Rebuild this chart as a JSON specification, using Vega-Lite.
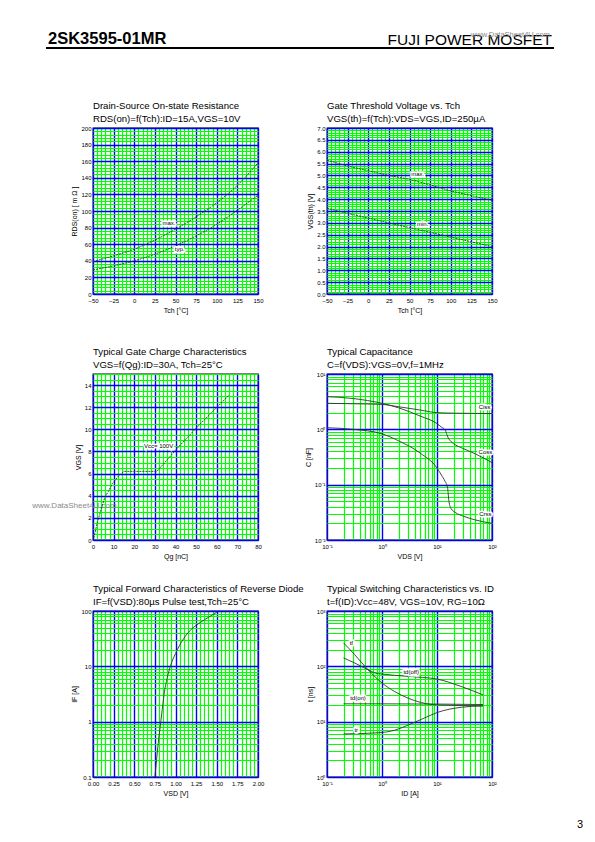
{
"$schema":"https://vega.github.io/schema/vega-lite/v6.json",
"autosize":{"type":"pad"},
"padding":{"left":31,"top":28,"right":0,"bottom":0},
"background":"white",
"spacing":51,
"datasets":{
"p1lab":[{"label":"max.","x":42,"y":85},{"label":"typ.","x":55,"y":54}],
"p2lab":[{"label":"max.","x":60,"y":5.06},{"label":"min.","x":66,"y":2.97}],
"p3lab":[{"label":"Vcc= 100V","x":31.8,"y":8.47}],
"p4lab":[{"label":"Ciss","x":73,"y":2.56},{"label":"Coss","x":76,"y":0.385},{"label":"Crss","x":76,"y":0.029}],
"p6lab":[{"label":"tf","x":0.277,"y":265},{"label":"td(off)","x":3.4,"y":78},{"label":"td(on)","x":0.366,"y":26.6},{"label":"tr","x":0.34,"y":7.06}]
},
"vconcat":[
{
"width":461,"height":20,"view":{"stroke":null},
"data":{"values":[{"left":"2SK3595-01MR","right":"FUJI POWER MOSFET","wm":"www.DataSheet4U.com"}]},
"layer":[
{"mark":{"type":"rule","color":"#000","strokeWidth":2,"xOffset":-47},"encoding":{"x":{"value":0},"x2":{"value":"width"},"y":{"value":"height"}}},
{"mark":{"type":"text","align":"left","baseline":"alphabetic","fontSize":16.5,"fontWeight":"bold","dx":-45,"dy":-4,"color":"#000"},"encoding":{"x":{"value":0},"y":{"value":"height"},"text":{"field":"left"}}},
{"mark":{"type":"text","align":"right","baseline":"alphabetic","fontSize":15.5,"dx":-2,"dy":-3,"color":"#000"},"encoding":{"x":{"value":"width"},"y":{"value":"height"},"text":{"field":"right"}}},
{"mark":{"type":"text","align":"right","baseline":"alphabetic","fontSize":7.5,"dx":-4,"dy":-11,"color":"#888"},"encoding":{"x":{"value":"width"},"y":{"value":"height"},"text":{"field":"wm"}}}
]
},
{"spacing":32,"vconcat":[
{"hconcat":[
{
"width":165,"height":166,
"title":{"text":"Drain-Source On-state Resistance","subtitle":"RDS(on)=f(Tch):ID=15A,VGS=10V"},
"encoding":{
"x":{"field":"x","type":"quantitative","scale":{"domain":[-50,150],"nice":false,"zero":false},
"axis":{"title":"Tch [°C]","values":[-50,-45,-40,-35,-30,-25,-20,-15,-10,-5,0,5,10,15,20,25,30,35,40,45,50,55,60,65,70,75,80,85,90,95,100,105,110,115,120,125,130,135,140,145,150],
"gridColor":{"condition":{"test":"datum.value % 25 === 0","value":"#0000ff"},"value":"#00ff00"},
"gridWidth":{"condition":{"test":"datum.value % 25 === 0","value":1.4},"value":1.2},
"labelExpr":"datum.value % 25 === 0 ? datum.label : ''"}},
"y":{"field":"y","type":"quantitative","scale":{"domain":[0,200],"nice":false},
"axis":{"title":"RDS(on) [ m Ω ]","values":[0,4,8,12,16,20,24,28,32,36,40,44,48,52,56,60,64,68,72,76,80,84,88,92,96,100,104,108,112,116,120,124,128,132,136,140,144,148,152,156,160,164,168,172,176,180,184,188,192,196,200],
"gridColor":{"condition":{"test":"datum.value % 20 === 0","value":"#0000ff"},"value":"#00ff00"},
"gridWidth":{"condition":{"test":"datum.value % 20 === 0","value":1.4},"value":1.2},
"labelExpr":"datum.value % 20 === 0 ? datum.label : ''"}}
},
"layer":[
{"data":{"values":[
{"series":"max","x":-50,"y":39},{"series":"max","x":-25,"y":46},{"series":"max","x":0,"y":54},{"series":"max","x":25,"y":65},{"series":"max","x":50,"y":78},{"series":"max","x":75,"y":93},{"series":"max","x":100,"y":110},{"series":"max","x":125,"y":131},{"series":"max","x":150,"y":158},
{"series":"typ","x":-50,"y":29},{"series":"typ","x":-25,"y":34},{"series":"typ","x":0,"y":40},{"series":"typ","x":25,"y":48},{"series":"typ","x":50,"y":58},{"series":"typ","x":75,"y":70},{"series":"typ","x":100,"y":84},{"series":"typ","x":125,"y":101},{"series":"typ","x":150,"y":119}]},
"mark":{"type":"line","color":"#333","strokeWidth":0.9,"strokeDash":[2,1],"interpolate":"monotone"},"encoding":{"detail":{"field":"series"}}},
{"data":{"name":"p1lab"},"mark":{"type":"text","fontSize":6,"stroke":"#fff","strokeWidth":3,"color":"#fff"},"encoding":{"text":{"field":"label"}}},
{"data":{"name":"p1lab"},"mark":{"type":"text","fontSize":6,"color":"#000"},"encoding":{"text":{"field":"label"}}}
]
},
{
"width":165,"height":166,
"title":{"text":"Gate Threshold Voltage vs. Tch","subtitle":"VGS(th)=f(Tch):VDS=VGS,ID=250µA"},
"encoding":{
"x":{"field":"x","type":"quantitative","scale":{"domain":[-50,150],"nice":false,"zero":false},
"axis":{"title":"Tch [°C]","values":[-50,-45,-40,-35,-30,-25,-20,-15,-10,-5,0,5,10,15,20,25,30,35,40,45,50,55,60,65,70,75,80,85,90,95,100,105,110,115,120,125,130,135,140,145,150],
"gridColor":{"condition":{"test":"datum.value % 25 === 0","value":"#0000ff"},"value":"#00ff00"},
"gridWidth":{"condition":{"test":"datum.value % 25 === 0","value":1.4},"value":1.2},
"labelExpr":"datum.value % 25 === 0 ? datum.label : ''"}},
"y":{"field":"y","type":"quantitative","scale":{"domain":[0,7],"nice":false},
"axis":{"title":"VGS(th) [V]","values":[0,0.1,0.2,0.3,0.4,0.5,0.6,0.7,0.8,0.9,1,1.1,1.2,1.3,1.4,1.5,1.6,1.7,1.8,1.9,2,2.1,2.2,2.3,2.4,2.5,2.6,2.7,2.8,2.9,3,3.1,3.2,3.3,3.4,3.5,3.6,3.7,3.8,3.9,4,4.1,4.2,4.3,4.4,4.5,4.6,4.7,4.8,4.9,5,5.1,5.2,5.3,5.4,5.5,5.6,5.7,5.8,5.9,6,6.1,6.2,6.3,6.4,6.5,6.6,6.7,6.8,6.9,7],
"gridColor":{"condition":{"test":"abs(datum.value*2-round(datum.value*2)) < 0.001","value":"#0000ff"},"value":"#00ff00"},
"gridWidth":{"condition":{"test":"abs(datum.value*2-round(datum.value*2)) < 0.001","value":1.4},"value":1.2},
"labelExpr":"abs(datum.value*2-round(datum.value*2)) < 0.001 ? format(datum.value, '.1f') : ''"}}
},
"layer":[
{"data":{"values":[
{"series":"max","x":-50,"y":5.65},{"series":"max","x":-25,"y":5.4},{"series":"max","x":0,"y":5.2},{"series":"max","x":25,"y":5.0},{"series":"max","x":50,"y":4.83},{"series":"max","x":75,"y":4.6},{"series":"max","x":100,"y":4.35},{"series":"max","x":125,"y":4.15},{"series":"max","x":150,"y":3.95},
{"series":"min","x":-50,"y":3.62},{"series":"min","x":-25,"y":3.4},{"series":"min","x":0,"y":3.2},{"series":"min","x":25,"y":3.0},{"series":"min","x":50,"y":2.8},{"series":"min","x":75,"y":2.6},{"series":"min","x":100,"y":2.4},{"series":"min","x":125,"y":2.2},{"series":"min","x":150,"y":2.0}]},
"mark":{"type":"line","color":"#333","strokeWidth":0.9,"strokeDash":[2,1],"interpolate":"monotone"},"encoding":{"detail":{"field":"series"}}},
{"data":{"name":"p2lab"},"mark":{"type":"text","fontSize":6,"stroke":"#fff","strokeWidth":3,"color":"#fff"},"encoding":{"text":{"field":"label"}}},
{"data":{"name":"p2lab"},"mark":{"type":"text","fontSize":6,"color":"#000"},"encoding":{"text":{"field":"label"}}}
]
}
],"spacing":69,"bounds":"flush"},
{"spacing":23,"vconcat":[
{"hconcat":[
{
"width":165,"height":166,
"title":{"text":"Typical Gate Charge Characteristics","subtitle":"VGS=f(Qg):ID=30A, Tch=25°C"},
"encoding":{
"x":{"field":"x","type":"quantitative","scale":{"domain":[0,80],"nice":false},
"axis":{"title":"Qg [nC]","values":[0,2,4,6,8,10,12,14,16,18,20,22,24,26,28,30,32,34,36,38,40,42,44,46,48,50,52,54,56,58,60,62,64,66,68,70,72,74,76,78,80],
"gridColor":{"condition":{"test":"datum.value % 10 === 0","value":"#0000ff"},"value":"#00ff00"},
"gridWidth":{"condition":{"test":"datum.value % 10 === 0","value":1.4},"value":1.2},
"labelExpr":"datum.value % 10 === 0 ? datum.label : ''"}},
"y":{"field":"y","type":"quantitative","scale":{"domain":[0,15],"nice":false},
"axis":{"title":"VGS [V]","values":[0,0.5,1,1.5,2,2.5,3,3.5,4,4.5,5,5.5,6,6.5,7,7.5,8,8.5,9,9.5,10,10.5,11,11.5,12,12.5,13,13.5,14,14.5,15],
"gridColor":{"condition":{"test":"datum.value % 2 === 0","value":"#0000ff"},"value":"#00ff00"},
"gridWidth":{"condition":{"test":"datum.value % 2 === 0","value":1.4},"value":1.2},
"labelExpr":"datum.value % 2 === 0 ? format(datum.value, 'd') : ''"}}
},
"layer":[
{"data":{"values":[{"wm":"www.DataSheet4U.com","x":11.5,"y":3.1}]},"mark":{"type":"text","align":"right","baseline":"middle","fontSize":8,"color":"#8a8a8a"},"encoding":{"text":{"field":"wm"}}},
{"data":{"values":[
{"series":"Vcc=100V","x":0.4,"y":0.2},{"series":"Vcc=100V","x":2.2,"y":1.66},{"series":"Vcc=100V","x":4.3,"y":3.0},{"series":"Vcc=100V","x":5.8,"y":3.9},{"series":"Vcc=100V","x":7.5,"y":4.4},{"series":"Vcc=100V","x":9.4,"y":5.1},{"series":"Vcc=100V","x":12.2,"y":5.75},{"series":"Vcc=100V","x":15,"y":6.2},{"series":"Vcc=100V","x":31,"y":6.2},{"series":"Vcc=100V","x":41.4,"y":8.4},{"series":"Vcc=100V","x":51,"y":10.3},{"series":"Vcc=100V","x":66,"y":13.1}]},
"mark":{"type":"line","color":"#333","strokeWidth":0.9,"strokeDash":[2,1]},"encoding":{"detail":{"field":"series"}}},
{"data":{"name":"p3lab"},"mark":{"type":"text","fontSize":6,"stroke":"#fff","strokeWidth":3,"color":"#fff"},"encoding":{"text":{"field":"label"}}},
{"data":{"name":"p3lab"},"mark":{"type":"text","fontSize":6,"color":"#000"},"encoding":{"text":{"field":"label"}}}
]
},
{
"width":165,"height":166,
"title":{"text":"Typical Capacitance","subtitle":"C=f(VDS):VGS=0V,f=1MHz"},
"encoding":{
"x":{"field":"x","type":"quantitative","scale":{"type":"log","domain":[0.1,100],"nice":false},
"axis":{"title":"VDS [V]","values":[0.1,0.2,0.3,0.4,0.5,0.6,0.7,0.8,0.9,1,2,3,4,5,6,7,8,9,10,20,30,40,50,60,70,80,90,100],
"gridColor":{"condition":{"test":"abs(log(datum.value)/LN10-round(log(datum.value)/LN10)) < 0.001","value":"#0000ff"},"value":"#00ff00"},
"gridWidth":{"condition":{"test":"abs(log(datum.value)/LN10-round(log(datum.value)/LN10)) < 0.001","value":1.4},"value":1.2},
"labelExpr":"abs(log(datum.value)/LN10-round(log(datum.value)/LN10)) < 0.001 ? '10' + (round(log(datum.value)/LN10) == -2 ? '⁻²' : round(log(datum.value)/LN10) == -1 ? '⁻¹' : round(log(datum.value)/LN10) == 0 ? '⁰' : round(log(datum.value)/LN10) == 1 ? '¹' : round(log(datum.value)/LN10) == 2 ? '²' : '³') : ''"}},
"y":{"field":"y","type":"quantitative","scale":{"type":"log","domain":[0.01,10],"nice":false},
"axis":{"title":"C [nF]","values":[0.01,0.02,0.03,0.04,0.05,0.06,0.07,0.08,0.09,0.1,0.2,0.3,0.4,0.5,0.6,0.7,0.8,0.9,1,2,3,4,5,6,7,8,9,10],
"gridColor":{"condition":{"test":"abs(log(datum.value)/LN10-round(log(datum.value)/LN10)) < 0.001","value":"#0000ff"},"value":"#00ff00"},
"gridWidth":{"condition":{"test":"abs(log(datum.value)/LN10-round(log(datum.value)/LN10)) < 0.001","value":1.4},"value":1.2},
"labelExpr":"abs(log(datum.value)/LN10-round(log(datum.value)/LN10)) < 0.001 ? '10' + (round(log(datum.value)/LN10) == -2 ? '⁻²' : round(log(datum.value)/LN10) == -1 ? '⁻¹' : round(log(datum.value)/LN10) == 0 ? '⁰' : round(log(datum.value)/LN10) == 1 ? '¹' : round(log(datum.value)/LN10) == 2 ? '²' : '³') : ''"}}
},
"layer":[
{"data":{"values":[
{"series":"Ciss","x":0.1,"y":2.95},{"series":"Ciss","x":0.3,"y":2.9},{"series":"Ciss","x":1,"y":2.82},{"series":"Ciss","x":2,"y":2.56},{"series":"Ciss","x":5,"y":2.23},{"series":"Ciss","x":10,"y":2.0},{"series":"Ciss","x":20,"y":1.96},{"series":"Ciss","x":50,"y":1.94},{"series":"Ciss","x":100,"y":1.93},
{"series":"Coss","x":0.1,"y":3.9},{"series":"Coss","x":0.3,"y":3.6},{"series":"Coss","x":1,"y":2.95},{"series":"Coss","x":2,"y":2.45},{"series":"Coss","x":5,"y":1.73},{"series":"Coss","x":10,"y":1.27},{"series":"Coss","x":12,"y":1.1},{"series":"Coss","x":14,"y":0.98},{"series":"Coss","x":16,"y":0.7},{"series":"Coss","x":18,"y":0.6},{"series":"Coss","x":20,"y":0.55},{"series":"Coss","x":30,"y":0.45},{"series":"Coss","x":50,"y":0.36},{"series":"Coss","x":100,"y":0.25},
{"series":"Crss","x":0.1,"y":1.07},{"series":"Crss","x":0.3,"y":1.0},{"series":"Crss","x":1,"y":0.83},{"series":"Crss","x":2,"y":0.62},{"series":"Crss","x":5,"y":0.37},{"series":"Crss","x":10,"y":0.2},{"series":"Crss","x":12,"y":0.15},{"series":"Crss","x":14,"y":0.115},{"series":"Crss","x":15.5,"y":0.09},{"series":"Crss","x":16.5,"y":0.05},{"series":"Crss","x":18,"y":0.037},{"series":"Crss","x":22,"y":0.031},{"series":"Crss","x":30,"y":0.027},{"series":"Crss","x":50,"y":0.023},{"series":"Crss","x":100,"y":0.02}]},
"mark":{"type":"line","color":"#333","strokeWidth":0.9,"interpolate":"monotone"},"encoding":{"detail":{"field":"series"}}},
{"data":{"name":"p4lab"},"mark":{"type":"text","fontSize":6,"stroke":"#fff","strokeWidth":3,"color":"#fff"},"encoding":{"text":{"field":"label"}}},
{"data":{"name":"p4lab"},"mark":{"type":"text","fontSize":6,"color":"#000"},"encoding":{"text":{"field":"label"}}}
]
}
],"spacing":69,"bounds":"flush"},
{"spacing":21,"vconcat":[
{"hconcat":[
{
"width":165,"height":166,
"title":{"text":"Typical Forward Characteristics of Reverse Diode","subtitle":"IF=f(VSD):80µs Pulse test,Tch=25°C"},
"encoding":{
"x":{"field":"x","type":"quantitative","scale":{"domain":[0,2],"nice":false},
"axis":{"title":"VSD [V]","values":[0,0.05,0.1,0.15,0.2,0.25,0.3,0.35,0.4,0.45,0.5,0.55,0.6,0.65,0.7,0.75,0.8,0.85,0.9,0.95,1,1.05,1.1,1.15,1.2,1.25,1.3,1.35,1.4,1.45,1.5,1.55,1.6,1.65,1.7,1.75,1.8,1.85,1.9,1.95,2],
"gridColor":{"condition":{"test":"abs(datum.value*4-round(datum.value*4)) < 0.001","value":"#0000ff"},"value":"#00ff00"},
"gridWidth":{"condition":{"test":"abs(datum.value*4-round(datum.value*4)) < 0.001","value":1.4},"value":1.2},
"labelExpr":"abs(datum.value*4-round(datum.value*4)) < 0.001 ? format(datum.value, '.2f') : ''"}},
"y":{"field":"y","type":"quantitative","scale":{"type":"log","domain":[0.1,100],"nice":false},
"axis":{"title":"IF [A]","values":[0.1,0.2,0.3,0.4,0.5,0.6,0.7,0.8,0.9,1,2,3,4,5,6,7,8,9,10,20,30,40,50,60,70,80,90,100],
"gridColor":{"condition":{"test":"abs(log(datum.value)/LN10-round(log(datum.value)/LN10)) < 0.001","value":"#0000ff"},"value":"#00ff00"},
"gridWidth":{"condition":{"test":"abs(log(datum.value)/LN10-round(log(datum.value)/LN10)) < 0.001","value":1.4},"value":1.2},
"labelExpr":"abs(log(datum.value)/LN10-round(log(datum.value)/LN10)) < 0.001 ? format(datum.value, '~g') : ''"}}
},
"layer":[
{"data":{"values":[
{"series":"IF","x":0.75,"y":0.1},{"series":"IF","x":0.77,"y":0.2},{"series":"IF","x":0.79,"y":0.4},{"series":"IF","x":0.82,"y":0.95},{"series":"IF","x":0.84,"y":1.7},{"series":"IF","x":0.86,"y":3.0},{"series":"IF","x":0.9,"y":6.2},{"series":"IF","x":0.94,"y":10.3},{"series":"IF","x":1.0,"y":17},{"series":"IF","x":1.1,"y":32},{"series":"IF","x":1.2,"y":48},{"series":"IF","x":1.3,"y":62},{"series":"IF","x":1.4,"y":77},{"series":"IF","x":1.5,"y":95}]},
"mark":{"type":"line","color":"#333","strokeWidth":0.9,"interpolate":"monotone"},"encoding":{"detail":{"field":"series"}}}
]
},
{
"width":165,"height":166,
"title":{"text":"Typical Switching Characteristics vs. ID","subtitle":"t=f(ID):Vcc=48V, VGS=10V, RG=10Ω"},
"encoding":{
"x":{"field":"x","type":"quantitative","scale":{"type":"log","domain":[0.1,100],"nice":false},
"axis":{"title":"ID [A]","values":[0.1,0.2,0.3,0.4,0.5,0.6,0.7,0.8,0.9,1,2,3,4,5,6,7,8,9,10,20,30,40,50,60,70,80,90,100],
"gridColor":{"condition":{"test":"abs(log(datum.value)/LN10-round(log(datum.value)/LN10)) < 0.001","value":"#0000ff"},"value":"#00ff00"},
"gridWidth":{"condition":{"test":"abs(log(datum.value)/LN10-round(log(datum.value)/LN10)) < 0.001","value":1.4},"value":1.2},
"labelExpr":"abs(log(datum.value)/LN10-round(log(datum.value)/LN10)) < 0.001 ? '10' + (round(log(datum.value)/LN10) == -2 ? '⁻²' : round(log(datum.value)/LN10) == -1 ? '⁻¹' : round(log(datum.value)/LN10) == 0 ? '⁰' : round(log(datum.value)/LN10) == 1 ? '¹' : round(log(datum.value)/LN10) == 2 ? '²' : '³') : ''"}},
"y":{"field":"y","type":"quantitative","scale":{"type":"log","domain":[1,1000],"nice":false},
"axis":{"title":"t [ns]","values":[1,2,3,4,5,6,7,8,9,10,20,30,40,50,60,70,80,90,100,200,300,400,500,600,700,800,900,1000],
"gridColor":{"condition":{"test":"abs(log(datum.value)/LN10-round(log(datum.value)/LN10)) < 0.001","value":"#0000ff"},"value":"#00ff00"},
"gridWidth":{"condition":{"test":"abs(log(datum.value)/LN10-round(log(datum.value)/LN10)) < 0.001","value":1.4},"value":1.2},
"labelExpr":"abs(log(datum.value)/LN10-round(log(datum.value)/LN10)) < 0.001 ? '10' + (round(log(datum.value)/LN10) == -2 ? '⁻²' : round(log(datum.value)/LN10) == -1 ? '⁻¹' : round(log(datum.value)/LN10) == 0 ? '⁰' : round(log(datum.value)/LN10) == 1 ? '¹' : round(log(datum.value)/LN10) == 2 ? '²' : '³') : ''"}}
},
"layer":[
{"data":{"values":[
{"series":"tf","x":0.2,"y":265},{"series":"tf","x":0.318,"y":163},{"series":"tf","x":0.556,"y":87},{"series":"tf","x":1.0,"y":50},{"series":"tf","x":1.7,"y":35},{"series":"tf","x":3.0,"y":26.5},{"series":"tf","x":5.2,"y":22.1},{"series":"tf","x":10,"y":20.1},{"series":"tf","x":68.6,"y":19.3},
{"series":"td(off)","x":0.2,"y":142},{"series":"td(off)","x":0.318,"y":115},{"series":"td(off)","x":0.556,"y":87},{"series":"td(off)","x":0.74,"y":76},{"series":"td(off)","x":1.0,"y":72.5},{"series":"td(off)","x":3.0,"y":65.8},{"series":"td(off)","x":10,"y":58.8},{"series":"td(off)","x":27.5,"y":43.3},{"series":"td(off)","x":68.6,"y":30.5},
{"series":"td(on)","x":0.2,"y":21},{"series":"td(on)","x":1,"y":21},{"series":"td(on)","x":10,"y":20.8},{"series":"td(on)","x":68.6,"y":20.4},
{"series":"tr","x":0.2,"y":6.0},{"series":"tr","x":0.85,"y":6.3},{"series":"tr","x":1.7,"y":7.0},{"series":"tr","x":3.0,"y":8.7},{"series":"tr","x":5.2,"y":11.0},{"series":"tr","x":10,"y":14.6},{"series":"tr","x":27.5,"y":18.2},{"series":"tr","x":68.6,"y":19.3}]},
"mark":{"type":"line","color":"#333","strokeWidth":0.9,"interpolate":"monotone"},"encoding":{"detail":{"field":"series"}}},
{"data":{"name":"p6lab"},"mark":{"type":"text","fontSize":6,"stroke":"#fff","strokeWidth":3,"color":"#fff"},"encoding":{"text":{"field":"label"}}},
{"data":{"name":"p6lab"},"mark":{"type":"text","fontSize":6,"color":"#000"},"encoding":{"text":{"field":"label"}}}
]
}
],"spacing":69,"bounds":"flush"},
{
"width":490,"height":10,"view":{"stroke":null},
"data":{"values":[{"page":"3"}]},
"mark":{"type":"text","align":"right","baseline":"alphabetic","fontSize":11,"color":"#000"},
"encoding":{"x":{"value":"width"},"y":{"value":"height"},"text":{"field":"page"}}
}
]}
]}
]}
],
"config":{
"font":"Liberation Sans",
"view":{"stroke":"#000","strokeWidth":1.3},
"axis":{"labelFontSize":6,"titleFontSize":7,"titleFontWeight":"normal","ticks":false,"domain":false,"labelPadding":3,"titlePadding":3,"labelFlush":false,"labelOverlap":false,"gridOpacity":1,"labelColor":"#000","titleColor":"#000","labelFont":"Liberation Sans","titleFont":"Liberation Sans"},
"axisY":{"labelPadding":2},
"title":{"anchor":"start","frame":"group","fontSize":9.6,"fontWeight":"normal","subtitleFontSize":9.6,"color":"#000","subtitleColor":"#000","offset":1,"subtitlePadding":4,"font":"Liberation Sans","subtitleFont":"Liberation Sans"},
"text":{"font":"Liberation Sans"}
}
}
